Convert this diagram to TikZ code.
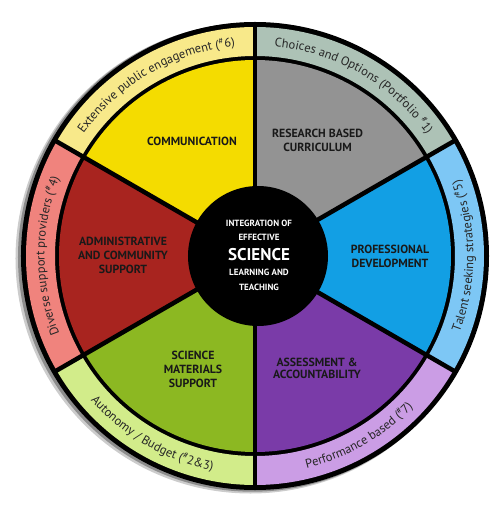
\documentclass[tikz,border=0pt]{standalone}
\usepackage{fontspec}
\setmainfont{PT Sans}
\usetikzlibrary{decorations.text}
\definecolor{cyel}{HTML}{F4DC00}
\definecolor{cgry}{HTML}{939393}
\definecolor{cblu}{HTML}{129FE4}
\definecolor{cpur}{HTML}{7A3BA8}
\definecolor{cgrn}{HTML}{8CB822}
\definecolor{cred}{HTML}{A8241F}
\definecolor{lyel}{HTML}{F8E98A}
\definecolor{lgry}{HTML}{ADC2B6}
\definecolor{lblu}{HTML}{7DC7F5}
\definecolor{lpur}{HTML}{CB9DE5}
\definecolor{lgrn}{HTML}{D2EC8A}
\definecolor{lred}{HTML}{F0837D}
\newcommand{\ringfont}{\fontsize{12.5}{14}\selectfont\color{black!85}}
\newcommand{\hsh}{\textsuperscript{\#}}
\begin{document}
\begin{tikzpicture}[x=1pt,y=1pt,
  lab/.style={font=\bfseries\fontsize{11.8}{14}\selectfont, align=center, text=black!90},
  core/.style={font=\bfseries\fontsize{9}{10}\selectfont, text=white},
  ringtext/.style={decorate, decoration={text along path, text align=center, text={#1}}}]
\useasboundingbox (-255,-255) rectangle (245,256);
% shadow
\fill[black!20] (-4.5,-2.5) circle (235);
\fill[black!45] (-2.5,-1.2) circle (234.5);
\fill[black] (0,0) circle (234);
% outer ring segments
\foreach \a/\c in {90/lyel,30/lgry,-30/lblu,-90/lpur,-150/lgrn,150/lred}{
  \fill[\c] (\a:200) arc[start angle=\a, end angle=\a+60, radius=200]
     -- (\a+60:229) arc[start angle=\a+60, end angle=\a, radius=229] -- cycle;
}
% inner sectors
\foreach \a/\c in {90/cyel,30/cgry,-30/cblu,-90/cpur,-150/cgrn,150/cred}{
  \fill[\c] (0,0) -- (\a:196) arc[start angle=\a, end angle=\a+60, radius=196] -- cycle;
}
% dividers
\foreach \a in {30,90,150,210,270,330}{
  \draw[line width=4.5pt] (0,0) -- (\a:231);
}
% ring texts
\path[ringtext={|\ringfont|Extensive public engagement ({\hsh}6)}]
  (150:210.5) arc[start angle=150, end angle=90, radius=210.5];
\path[ringtext={|\ringfont|Choices and Options (Portfolio {\hsh}1)}]
  (90:210.5) arc[start angle=90, end angle=30, radius=210.5];
\path[ringtext={|\ringfont|Talent seeking strategies ({\hsh}5)}]
  (-30:218.5) arc[start angle=-30, end angle=30, radius=218.5];
\path[ringtext={|\ringfont|Performance based ({\hsh}7)}]
  (270:218.5) arc[start angle=270, end angle=330, radius=218.5];
\path[ringtext={|\ringfont|Autonomy / Budget ({\hsh}2{\&}3)}]
  (210:218.5) arc[start angle=210, end angle=270, radius=218.5];
\path[ringtext={|\ringfont|Diverse support providers ({\hsh}4)}]
  (210:210.5) arc[start angle=210, end angle=150, radius=210.5];
% center
\fill[black] (3,0) circle (70);
\node[core] (c1) at (4,33) {INTEGRATION OF};
\node[core] (c2) at (4,19) {EFFECTIVE};
\node[core, font=\bfseries\fontsize{17}{18}\selectfont] (c3) at (4,1) {SCIENCE};
\node[core] (c4) at (4,-16) {LEARNING AND};
\node[core] (c5) at (4,-31) {TEACHING};
% sector labels
\node[lab] (s1) at (-63,115) {COMMUNICATION};
\node[lab] (s2) at (62.5,116) {RESEARCH BASED\\CURRICULUM};
\node[lab] (s3) at (135,0) {PROFESSIONAL\\DEVELOPMENT};
\node[lab, font=\bfseries\fontsize{11.8}{11.5}\selectfont] (s4) at (62,-112.5) {ASSESSMENT \&\\ACCOUNTABILITY};
\node[lab] (s5) at (-62,-113) {SCIENCE\\MATERIALS\\SUPPORT};
\node[lab] (s6) at (-132,1) {ADMINISTRATIVE\\AND COMMUNITY\\SUPPORT};
\end{tikzpicture}
\end{document}
